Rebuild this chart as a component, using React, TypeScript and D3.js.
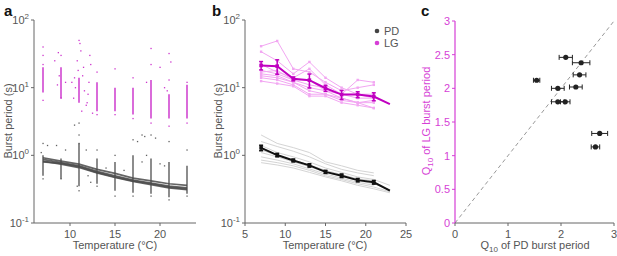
import React from "react";
import * as d3 from "d3";

// ---------- Panel a data ----------
const temps = [7, 9, 11, 13, 15, 17, 19, 21, 23];
// dense cores of raw burst periods at each temperature: [temp, lo, hi]
const lgCore: [number, number, number][] = [
  [7, 8.5, 20], [9, 7, 20], [11, 6, 14], [13, 4.5, 12], [15, 4.5, 10],
  [17, 4, 10], [19, 3.5, 13], [21, 3.5, 8], [23, 3.5, 11],
];
const lgScatter: [number, number][] = [
  [7, 40], [7, 6.5], [7, 30], [7, 22],
  [8.7, 33], [9, 30], [8.3, 25], [8.8, 15], [9.5, 12], [9, 7], [8.6, 11],
  [10.2, 12], [10.5, 14], [10.8, 25], [11.0, 50], [11.1, 45], [11.2, 35], [11.6, 9],
  [11.8, 5.5], [12.0, 8], [12.2, 30], [12.3, 22], [12.5, 4.2], [11.5, 20], [10.6, 10],
  [12.1, 12], [11.9, 6], [11.3, 4.5], [10.9, 18], [11.4, 15], [10.4, 7],
  [13, 17], [13, 4], [15, 19], [15, 4], [17, 14], [17, 3.5],
  [19, 38], [19, 22], [18.5, 12], [19, 3], [20, 20], [20.5, 10],
  [21, 32], [21.2, 24], [21, 2.7], [20.8, 9], [21, 13], [23, 12], [23, 3],
];
const pdCore: [number, number, number][] = [
  [7, 0.5, 1.0], [9, 0.45, 0.9], [11, 0.35, 1.5], [13, 0.38, 0.9], [15, 0.3, 0.8],
  [17, 0.28, 1.0], [19, 0.27, 0.9], [21, 0.24, 0.8], [23, 0.27, 0.7],
];
const pdScatter: [number, number][] = [
  [7, 1.5], [7, 0.45], [7.5, 1.4], [6.8, 1.1], [8.5, 1.4], [9, 0.45], [9.5, 1.2],
  [10.5, 2.8], [11, 3], [11, 2], [11, 1.5], [10.8, 0.35], [11, 0.3], [11.8, 1.2],
  [12, 0.5], [12.3, 0.4], [13, 1.2], [13, 0.35], [15, 1.0], [15, 0.25],
  [17, 1.7], [17.5, 1.6], [18, 2.0], [18.3, 1.9], [18.5, 1.0], [17, 0.25], [18, 0.8],
  [19, 2.0], [19, 0.25], [19.5, 1.8], [20, 0.75], [21, 1.6], [21, 0.22], [20.5, 0.7],
  [23, 1.2], [23, 0.25], [16, 0.6], [14, 0.65],
];
const bandTemps = [7, 9, 11, 13, 15, 17, 19, 21, 23];
const pdBand: number[][] = [
  [0.92, 0.82, 0.74, 0.62, 0.54, 0.46, 0.42, 0.38, 0.36],
  [0.87, 0.78, 0.7, 0.58, 0.5, 0.43, 0.39, 0.35, 0.33],
  [0.82, 0.74, 0.66, 0.55, 0.47, 0.41, 0.37, 0.33, 0.31],
  [0.8, 0.76, 0.68, 0.56, 0.48, 0.42, 0.38, 0.34, 0.32],
];

// ---------- Panel b data ----------
const lgMean = [21.3, 20.8, 13.5, 12.9, 9.8, 7.9, 7.9, 7.4, 5.7];
const lgMeanErr = [3, 5, 0.9, 3, 1, 1.2, 0.8, 1.0, 0];
const pdMean = [1.29, 1.01, 0.84, 0.71, 0.57, 0.5, 0.43, 0.4, 0.3];
const pdMeanErr = [0.12, 0.06, 0.04, 0.04, 0.03, 0.03, 0.025, 0.025, 0];
const lgTraces: number[][] = [
  [41, 49, 19, 17, 12, 9, 10, 11],
  [34, 25, 16, 24, 14, 10, 8, 8],
  [22, 17, 14, 19, 11, 8, 13, 12],
  [18, 16, 13, 11, 10, 8, 7, 7],
  [16, 15, 12, 10, 9, 7, 6, 5],
  [15, 14, 12, 9, 8, 7, 6, 6],
  [14, 13, 11, 8, 8, 6.5, 6, 6.5],
  [12.5, 11.5, 10.5, 7.5, 7.5, 6, 5.5, 5],
  [17, 18, 13, 13, 9, 8, 8, 7],
];
const pdTraces: number[][] = [
  [2.0, 1.5, 1.3, 1.1, 0.8, 0.7, 0.6, 0.55],
  [1.6, 1.35, 1.15, 0.95, 0.75, 0.62, 0.55, 0.5],
  [1.4, 1.1, 0.95, 0.8, 0.65, 0.56, 0.48, 0.44, 0.36],
  [1.2, 1.0, 0.85, 0.72, 0.6, 0.52, 0.45, 0.42],
  [1.1, 0.95, 0.8, 0.68, 0.56, 0.49, 0.42, 0.38, 0.31],
  [0.95, 0.85, 0.75, 0.63, 0.53, 0.46, 0.4, 0.36],
  [0.85, 0.78, 0.7, 0.6, 0.5, 0.44, 0.38, 0.34, 0.29],
  [0.78, 0.72, 0.65, 0.56, 0.48, 0.42, 0.36, 0.32, 0.28],
];

// ---------- Panel c data ----------
const q10PD = [2.09, 2.38, 2.35, 1.54, 1.94, 2.28, 1.94, 2.08, 2.73, 2.65];
const q10PDErr = [0.125, 0.165, 0.12, 0.06, 0.12, 0.12, 0.12, 0.09, 0.15, 0.08];
const q10LG = [2.46, 2.38, 2.2, 2.12, 2.0, 2.02, 1.8, 1.8, 1.33, 1.13];

const decadeTicks = [0.1, 1, 10, 100];
const decadeExp = ["-1", "0", "1", "2"];
const aXTicks = [10, 15, 20];
const bXTicks = [5, 10, 15, 20, 25];
const cXTicks = [0, 1, 2, 3];
const cYTicks = [0, 0.5, 1, 1.5, 2, 2.5, 3];

const FONT = "Liberation Sans, Arial, sans-serif";
const AX = "#666";
const TXT = "#555";
const MAG = "#c000c0";
const CMAG = "#d63fd6";

function LogYAxis({ x, y }: { x: number; y: d3.ScaleLogarithmic<number, number> }) {
  const [y0, y1] = y.range();
  return (
    <g>
      <line x1={x} x2={x} y1={y0} y2={y1} stroke={AX} strokeWidth={1} />
      {decadeTicks.map((t, i) => (
        <g key={t}>
          <line x1={x - 3} x2={x} y1={y(t)} y2={y(t)} stroke={AX} />
          <text x={x - 5} y={y(t) + 4} textAnchor="end" fontSize={11} fill={TXT} fontFamily={FONT}>
            10<tspan dy={-5} fontSize={8}>{decadeExp[i]}</tspan>
          </text>
        </g>
      ))}
    </g>
  );
}

function XAxis({ x, y0, ticks, color = AX, tcolor = TXT }: any) {
  const [a, b] = x.range();
  return (
    <g>
      <line x1={a} x2={b} y1={y0} y2={y0} stroke={color} />
      {ticks.map((t: number) => (
        <g key={t}>
          <line x1={x(t)} x2={x(t)} y1={y0} y2={y0 + 3} stroke={color} />
          <text x={x(t)} y={y0 + 15} textAnchor="middle" fontSize={11} fill={tcolor} fontFamily={FONT}>
            {t}
          </text>
        </g>
      ))}
    </g>
  );
}

export default function App() {
  const yLog = d3.scaleLog().domain([0.1, 100]).range([223, 20]);
  const xa = d3.scaleLinear().domain([6, 24]).range([34, 196]);
  const xb = d3.scaleLinear().domain([5, 25]).range([245, 406]);
  const xc = d3.scaleLinear().domain([0, 3]).range([455, 614]);
  const yc = d3.scaleLinear().domain([0, 3]).range([223, 21]);

  const bandLine = d3.line<number>().x((_, i) => xa(bandTemps[i])).y((v) => yLog(v));
  const bLine = d3.line<number>().x((_, i) => xb(temps[i])).y((v) => yLog(v));

  const errBar = (cx: number, v: number, e: number, color: string, key: string, w = 1.5) => {
    if (!e) return null;
    const t = yLog(v + e), bt = yLog(Math.max(v - e, 0.01));
    return (
      <g key={key} stroke={color} strokeWidth={w}>
        <line x1={cx} x2={cx} y1={t} y2={bt} />
        <line x1={cx - 2} x2={cx + 2} y1={t} y2={t} />
        <line x1={cx - 2} x2={cx + 2} y1={bt} y2={bt} />
      </g>
    );
  };

  return (
    <svg width={617} height={256} style={{ position: "absolute", left: 0, top: 0, background: "#fff" }} fontFamily={FONT}>
      {/* ---------- Panel a ---------- */}
      <text x={4} y={16} fontSize={15} fontWeight="bold" fill="#111">a</text>
      {lgCore.map(([t, lo, hi], i) => (
        <line key={"lc" + i} x1={xa(t)} x2={xa(t)} y1={yLog(lo)} y2={yLog(hi)} stroke={MAG} strokeWidth={1.6} opacity={0.72} />
      ))}
      {lgScatter.map(([t, v], i) => (
        <rect key={"ls" + i} x={xa(t) - 0.6} y={yLog(v) - 0.6} width={1.3} height={1.3} fill={MAG} opacity={0.8} />
      ))}
      {pdCore.map(([t, lo, hi], i) => (
        <line key={"pc" + i} x1={xa(t)} x2={xa(t)} y1={yLog(lo)} y2={yLog(hi)} stroke="#3a3a3a" strokeWidth={1.6} opacity={0.72} />
      ))}
      {pdScatter.map(([t, v], i) => (
        <rect key={"ps" + i} x={xa(t) - 0.6} y={yLog(v) - 0.6} width={1.3} height={1.3} fill="#3a3a3a" opacity={0.8} />
      ))}
      {pdBand.map((tr, i) => (
        <path key={"pb" + i} d={bandLine(tr) || ""} fill="none" stroke="#4a4a4a" strokeWidth={1.7} opacity={0.85} />
      ))}
      <LogYAxis x={34} y={yLog} />
      <XAxis x={xa} y0={223} ticks={aXTicks} />
      <text x={115} y={249} textAnchor="middle" fontSize={11} fill={TXT}>Temperature (°C)</text>
      <text transform="translate(12,121) rotate(-90)" textAnchor="middle" fontSize={11} fill={TXT}>Burst period (s)</text>

      {/* ---------- Panel b ---------- */}
      <text x={212} y={16} fontSize={15} fontWeight="bold" fill="#111">b</text>
      {pdTraces.map((tr, i) => (
        <path key={"pt" + i} d={bLine(tr) || ""} fill="none" stroke="#d4d4d4" strokeWidth={1} />
      ))}
      {lgTraces.map((tr, i) => (
        <g key={"lt" + i}>
          <path d={bLine(tr) || ""} fill="none" stroke="#f2a6f2" strokeWidth={1} />
          {tr.map((v, j) => (
            <rect key={j} x={xb(temps[j]) - 1.2} y={yLog(v) - 1.2} width={2.4} height={2.4} fill="#f2a6f2" />
          ))}
        </g>
      ))}
      <path d={bLine(pdMean) || ""} fill="none" stroke="#111" strokeWidth={2} />
      {pdMean.map((v, i) => errBar(xb(temps[i]), v, pdMeanErr[i], "#111", "pe" + i))}
      {pdMean.slice(0, 8).map((v, i) => (
        <rect key={"pm" + i} x={xb(temps[i]) - 1.8} y={yLog(v) - 1.8} width={3.6} height={3.6} fill="#111" />
      ))}
      <path d={bLine(lgMean) || ""} fill="none" stroke={MAG} strokeWidth={2} />
      {lgMean.map((v, i) => errBar(xb(temps[i]), v, lgMeanErr[i], MAG, "le" + i))}
      {lgMean.slice(0, 8).map((v, i) => (
        <rect key={"lm" + i} x={xb(temps[i]) - 1.8} y={yLog(v) - 1.8} width={3.6} height={3.6} fill={MAG} />
      ))}
      <circle cx={377} cy={31} r={2.3} fill="#444" />
      <text x={384} y={35} fontSize={11} fill={TXT}>PD</text>
      <circle cx={377} cy={43} r={2.3} fill={CMAG} />
      <text x={384} y={47} fontSize={11} fill={TXT}>LG</text>
      <LogYAxis x={245} y={yLog} />
      <XAxis x={xb} y0={223} ticks={bXTicks} />
      <text x={325} y={249} textAnchor="middle" fontSize={11} fill={TXT}>Temperature (°C)</text>
      <text transform="translate(222,121) rotate(-90)" textAnchor="middle" fontSize={11} fill={TXT}>Burst period (s)</text>

      {/* ---------- Panel c ---------- */}
      <text x={421} y={16} fontSize={15} fontWeight="bold" fill="#111">c</text>
      <line x1={xc(0)} y1={yc(0)} x2={xc(3)} y2={yc(3)} stroke="#999" strokeDasharray="4 3" />
      {q10PD.map((x, i) => (
        <g key={"q" + i} stroke="#222" strokeWidth={1}>
          <line x1={xc(x - q10PDErr[i])} x2={xc(x + q10PDErr[i])} y1={yc(q10LG[i])} y2={yc(q10LG[i])} />
          <line x1={xc(x - q10PDErr[i])} x2={xc(x - q10PDErr[i])} y1={yc(q10LG[i]) - 2.5} y2={yc(q10LG[i]) + 2.5} />
          <line x1={xc(x + q10PDErr[i])} x2={xc(x + q10PDErr[i])} y1={yc(q10LG[i]) - 2.5} y2={yc(q10LG[i]) + 2.5} />
          <circle cx={xc(x)} cy={yc(q10LG[i])} r={2.6} fill="#222" stroke="none" />
        </g>
      ))}
      <line x1={455} x2={455} y1={223} y2={21} stroke={CMAG} strokeWidth={1.2} />
      {cYTicks.map((t) => (
        <g key={"cy" + t}>
          <line x1={452} x2={455} y1={yc(t)} y2={yc(t)} stroke={CMAG} />
          <text x={450} y={yc(t) + 4} textAnchor="end" fontSize={11} fill={CMAG}>{t}</text>
        </g>
      ))}
      <XAxis x={xc} y0={223} ticks={cXTicks} />
      <text x={535} y={249} textAnchor="middle" fontSize={11} fill={TXT}>
        Q<tspan dy={3} fontSize={8}>10</tspan><tspan dy={-3}> of PD burst period</tspan>
      </text>
      <text transform="translate(430,121) rotate(-90)" textAnchor="middle" fontSize={11} fill={CMAG}>
        Q<tspan dy={3} fontSize={8}>10</tspan><tspan dy={-3}> of LG burst period</tspan>
      </text>
    </svg>
  );
}
